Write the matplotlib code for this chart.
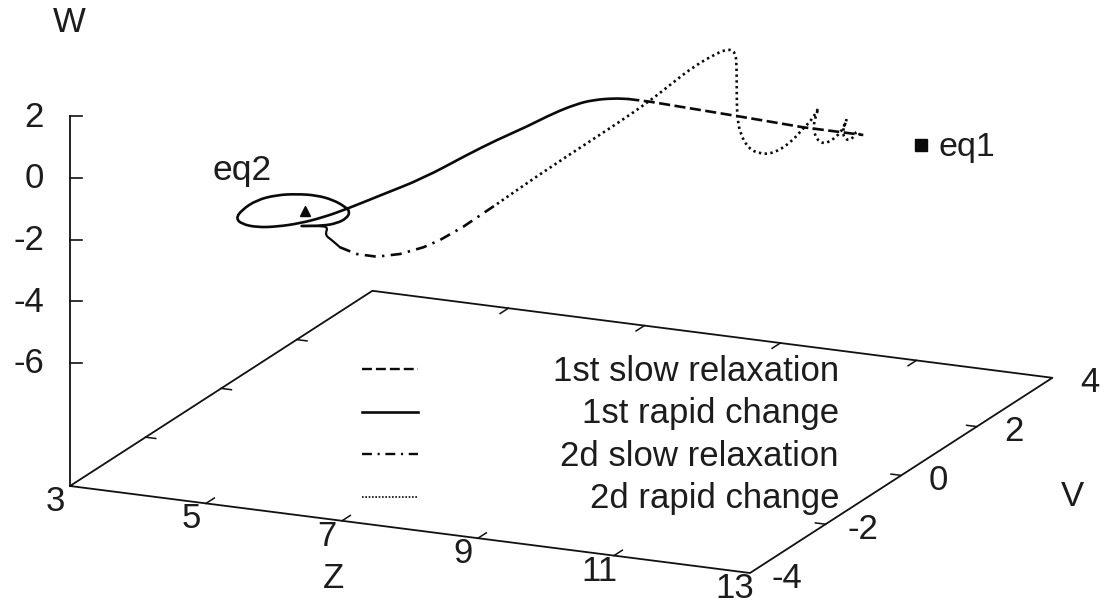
import matplotlib
matplotlib.use('Agg')
import matplotlib.pyplot as plt
from matplotlib.path import Path
from matplotlib.patches import PathPatch
import numpy as np

plt.rcParams['font.family'] = ['Liberation Sans', 'DejaVu Sans']

# axis values
z_ticks = [3, 5, 7, 9, 11, 13]
v_ticks = [-4, -2, 0, 2, 4]
w_ticks = [2, 0, -2, -4, -6]

# curves, in projected (screen plane) coordinates
first_rapid_x = [301.7, 323.3, 336.7, 346.7, 350, 345, 333.3, 316.7, 296.7, 276.7, 256.7, 241.7, 236,
                 241.7, 256.7, 276.7, 300, 323.3, 346.7, 380, 423.3, 466.7, 496.7, 526.7, 553.3, 576.7,
                 593.3, 613.3, 628.3]
first_rapid_y = [226, 225.7, 223.3, 218.3, 211.7, 206.7, 200, 195.3, 194, 195, 200, 210, 218.3,
                 224, 227.3, 226.7, 223.3, 217.3, 209, 195.5, 178.3, 155, 140, 126.7, 113.3, 104,
                 100, 98.3, 99]
first_slow_x = [628.3, 650, 736.7, 803.3, 863.3]
first_slow_y = [99, 101.7, 116, 127.3, 135]
wiggle_x = [301.7, 320, 328, 325, 331.7, 340]
wiggle_y = [226, 226, 227, 235, 240, 247.3]
second_slow_x = [340, 356.7, 376.7, 400, 423.3, 440, 463.3, 497]
second_slow_y = [247.3, 254, 256.7, 254, 247.3, 240, 226.7, 204]
second_rapid_x = [497, 546.7, 620, 650, 670, 693.3, 716.7, 728.3, 735, 736.7, 736.7, 737.3, 740, 748.3,
                  760, 773.3, 790, 803.3, 811.7, 818.3, 818.3, 812.7, 816.7, 825, 836.7, 843.3, 846.7, 846.7,
                  842, 846.7, 853.3, 856.7, 860]
second_rapid_y = [204, 169.5, 121.7, 100.7, 85, 66.7, 53.3, 49, 51.7, 63.3, 96.7, 116.7, 133.3, 148.3,
                  154, 153.3, 143.3, 128.3, 120, 108.3, 108.3, 126.7, 140, 144.3, 136.7, 128.3, 119.3, 119.3,
                  133, 140.7, 138.3, 130, 135]
eq1_point = (921, 145)
eq2_point = (305, 210.5)
legend_labels = ['1st slow relaxation', '1st rapid change', '2d slow relaxation', '2d rapid change']

TEXT = '#1c1c1c'
LINE = '#111111'
DARK = '#0a0a0a'
FS = 25
DASHED = (0, (4.2, 1.7))
DASHDOT = (0, (4.2, 2.4, 0.9, 2.4))
DOTTED = (0, (0.9, 1.3))


def project(z, v, w=-10.0):
    # gnuplot style view worked out from the corners of the base
    x = 70 + (z - 3) * 68.0 + (v + 4) * 37.8
    y = 486 + (z - 3) * 8.7 - (v + 4) * 24.4 - (w + 10) * 30.8
    return x, y


def smooth(ax, xs, ys, **kw):
    # quadratic pieces through the midpoints, so the read points do not show as corners
    pts = np.column_stack([xs, ys])
    mids = (pts[:-1] + pts[1:]) / 2
    verts = [pts[0], mids[0]]
    codes = [Path.MOVETO, Path.LINETO]
    for p, m in zip(pts[1:-1], mids[1:]):
        verts += [p, m]
        codes += [Path.CURVE3, Path.CURVE3]
    verts.append(pts[-1])
    codes.append(Path.LINETO)
    ax.add_patch(PathPatch(Path(verts, codes), fill=False, edgecolor=DARK, **kw))


fig = plt.figure(figsize=(11.09, 6.04), dpi=100)
ax = fig.add_axes([0, 0, 1, 1])
ax.set_xlim(0, 1109)
ax.set_ylim(604, 0)
ax.axis('off')

# base of the box and W axis
corners = [project(3, -4), project(13, -4), project(13, 4), project(3, 4), project(3, -4)]
ax.plot([c[0] for c in corners], [c[1] for c in corners], color=LINE, lw=1.3)
ax.plot(*zip(project(3, -4), project(3, -4, 2)), color=LINE, lw=1.3)

for w in w_ticks:
    x0, y0 = project(3, -4, w)
    ax.plot([x0, x0 + 12], [y0, y0], color=LINE, lw=1.2)
    ax.text(44, y0 + 1, str(w), fontsize=FS, color=TEXT, ha='right', va='center')

for z in z_ticks:
    x0, y0 = project(z, -4)
    if 3 < z < 13:
        for v0, v1 in [(-4, -3.78), (4, 3.78)]:
            a = project(z, v0)
            b = project(z, v1)
            ax.plot([a[0], b[0]], [a[1], b[1]], color=LINE, lw=1.1)
    ax.text(x0 - 15, y0 + 15.5, str(z), fontsize=FS, color=TEXT, ha='center', va='center')

for v in v_ticks:
    x0, y0 = project(13, v)
    if -4 < v < 4:
        for z0, z1 in [(3, 3.15), (13, 12.85)]:
            a = project(z0, v)
            b = project(z1, v)
            ax.plot([a[0], b[0]], [a[1], b[1]], color=LINE, lw=1.1)
    ax.text(x0 + 37, y0 + 5, str(v), fontsize=FS, color=TEXT, ha='center', va='center')

ax.text(69, 23, 'W', fontsize=FS, color=TEXT, ha='center', va='center')
ax.text(334, 578, 'Z', fontsize=FS, color=TEXT, ha='center', va='center')
ax.text(1072, 497, 'V', fontsize=FS, color=TEXT, ha='center', va='center')

# curves
smooth(ax, first_rapid_x, first_rapid_y, lw=1.9, capstyle='round', joinstyle='round')
smooth(ax, wiggle_x, wiggle_y, lw=1.6, capstyle='round', joinstyle='round')
ax.plot(first_slow_x, first_slow_y, ls=DASHED, color=DARK, lw=1.9)
ax.plot(second_slow_x, second_slow_y, ls=DASHDOT, color=DARK, lw=1.9)
smooth(ax, second_rapid_x, second_rapid_y, lw=1.9, linestyle=DOTTED)

# equilibrium points
ax.plot(*eq1_point, 's', color=DARK, ms=8)
ax.plot(*eq2_point, '^', color=DARK, ms=7)
ax.text(938, 156, 'eq1', fontsize=24.5, color=TEXT, ha='left', va='baseline')
ax.text(213, 180, 'eq2', fontsize=25.5, color=TEXT, ha='left', va='baseline')

# key
key_styles = [DASHED, '-', DASHDOT, (0, (1, 1))]
key_widths = [1.7, 1.9, 1.7, 1.2]
key_y = [369.3, 411.7, 454.3, 496.7]
text_y = [380.7, 423.3, 466, 508]
for label, style, width, ly, ty in zip(legend_labels, key_styles, key_widths, key_y, text_y):
    ax.plot([362, 418], [ly, ly], ls=style, color=DARK, lw=width)
    ax.text(839, ty, label, fontsize=FS, color=TEXT, ha='right', va='baseline')

fig.savefig('out.png', dpi=100)
